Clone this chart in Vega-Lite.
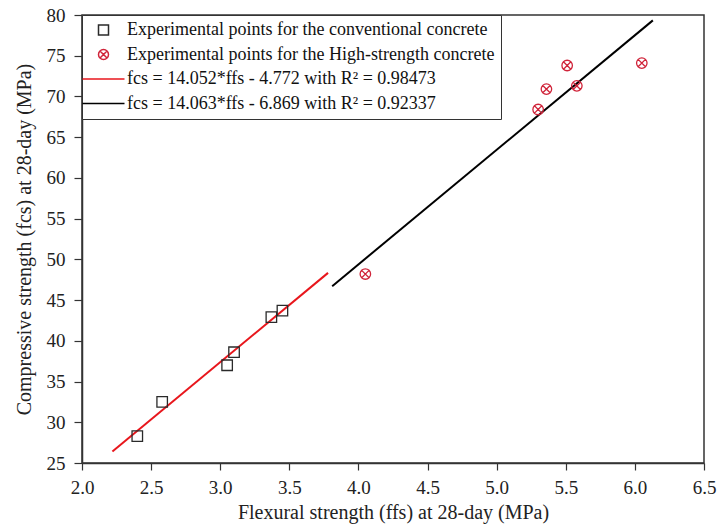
{
  "$schema": "https://vega.github.io/schema/vega-lite/v6.json",
  "width": 622,
  "height": 448,
  "autosize": "none",
  "padding": {"left": 82, "top": 15, "right": 13, "bottom": 64},
  "background": "white",
  "config": {
    "font": "Liberation Serif",
    "view": {"stroke": "#333", "strokeWidth": 1.5},
    "axis": {
      "domainColor": "#333", "domainWidth": 1.5,
      "tickColor": "#333", "tickWidth": 1.2,
      "labelColor": "#222", "titleColor": "#222",
      "labelFont": "Liberation Serif", "titleFont": "Liberation Serif",
      "labelFontSize": 19, "titleFontSize": 20, "titleFontWeight": "normal",
      "grid": false
    }
  },
  "datasets": {
    "points": [
      {"x": 2.40, "y": 28.3, "series": "Experimental points for the conventional concrete"},
      {"x": 2.58, "y": 32.5, "series": "Experimental points for the conventional concrete"},
      {"x": 3.05, "y": 37.0, "series": "Experimental points for the conventional concrete"},
      {"x": 3.10, "y": 38.6, "series": "Experimental points for the conventional concrete"},
      {"x": 3.37, "y": 42.9, "series": "Experimental points for the conventional concrete"},
      {"x": 3.45, "y": 43.7, "series": "Experimental points for the conventional concrete"},
      {"x": 4.05, "y": 48.2, "series": "Experimental points for the High-strength concrete"},
      {"x": 5.30, "y": 68.4, "series": "Experimental points for the High-strength concrete"},
      {"x": 5.36, "y": 70.9, "series": "Experimental points for the High-strength concrete"},
      {"x": 5.51, "y": 73.8, "series": "Experimental points for the High-strength concrete"},
      {"x": 5.58, "y": 71.3, "series": "Experimental points for the High-strength concrete"},
      {"x": 6.05, "y": 74.1, "series": "Experimental points for the High-strength concrete"}
    ],
    "lines": [
      {"x": 2.22, "y": 26.42, "series": "fcs = 14.052*ffs - 4.772 with R² = 0.98473"},
      {"x": 3.78, "y": 48.34, "series": "fcs = 14.052*ffs - 4.772 with R² = 0.98473"},
      {"x": 3.81, "y": 46.71, "series": "fcs = 14.063*ffs - 6.869 with R² = 0.92337"},
      {"x": 6.13, "y": 79.34, "series": "fcs = 14.063*ffs - 6.869 with R² = 0.92337"}
    ]
  },
  "layer": [
    {
      "data": {"name": "lines"},
      "mark": {"type": "line", "strokeWidth": 2},
      "encoding": {
        "x": {
          "field": "x", "type": "quantitative",
          "scale": {"domain": [2, 6.5], "nice": false, "zero": false},
          "axis": {
            "title": "Flexural strength (ffs) at 28-day (MPa)",
            "values": [2, 2.25, 2.5, 2.75, 3, 3.25, 3.5, 3.75, 4, 4.25, 4.5, 4.75, 5, 5.25, 5.5, 5.75, 6, 6.25, 6.5],
            "labelExpr": "(datum.value * 2) % 1 == 0 ? format(datum.value, '.1f') : ''",
            "labelFont": "Liberation Serif",
            "titleFont": "Liberation Serif",
            "labelOverlap": false,
            "labelFlush": false,
            "labelPadding": 8,
            "tickSize": 7,
            "titlePadding": 5,
            "encode": {
              "ticks": {
                "update": {
                  "y2": {"signal": "(datum.value * 2) % 1 != 0 ? 4 : 7"}
                }
              }
            }
          }
        },
        "y": {
          "field": "y", "type": "quantitative",
          "scale": {"domain": [25, 80], "nice": false, "zero": false},
          "axis": {
            "title": "Compressive strength (fcs) at 28-day (MPa)",
            "values": [25, 30, 35, 40, 45, 50, 55, 60, 65, 70, 75, 80],
            "labelFont": "Liberation Serif",
            "titleFont": "Liberation Serif",
            "tickSize": 8,
            "labelPadding": 9,
            "titlePadding": 12
          }
        },
        "color": {
          "field": "series", "type": "nominal",
          "scale": {
            "domain": [
              "Experimental points for the conventional concrete",
              "Experimental points for the High-strength concrete",
              "fcs = 14.052*ffs - 4.772 with R² = 0.98473",
              "fcs = 14.063*ffs - 6.869 with R² = 0.92337"
            ],
            "range": ["#2a2a2a", "#d0243a", "#e8161c", "#000000"]
          },
          "legend": {
            "title": null,
            "orient": "top-left",
            "offset": 0,
            "padding": 6,
            "rowPadding": 6.5,
            "strokeColor": "#333",
            "fillColor": "white",
            "labelFont": "Liberation Serif",
            "labelFontSize": 18,
            "labelColor": "#111",
            "labelLimit": 600,
            "symbolOffset": 6.5,
            "labelOffset": 14.5,
            "symbolSize": 100
          }
        },
        "detail": {"field": "series"}
      }
    },
    {
      "data": {"name": "points"},
      "mark": {"type": "point", "filled": false, "strokeWidth": 1.3, "size": 110, "opacity": 1},
      "encoding": {
        "x": {"field": "x", "type": "quantitative"},
        "y": {"field": "y", "type": "quantitative"},
        "color": {"field": "series", "type": "nominal"},
        "shape": {
          "field": "series", "type": "nominal",
          "scale": {
            "domain": [
              "Experimental points for the conventional concrete",
              "Experimental points for the High-strength concrete",
              "fcs = 14.052*ffs - 4.772 with R² = 0.98473",
              "fcs = 14.063*ffs - 6.869 with R² = 0.92337"
            ],
            "range": [
              "square",
              "M1,0A1,1,0,1,1,-1,0A1,1,0,1,1,1,0ZM-0.7,-0.7L0.7,0.7M-0.7,0.7L0.7,-0.7",
              "M-4.2,0L4.2,0",
              "M-4.2,0L4.2,0"
            ]
          },
          "legend": {"title": null}
        }
      }
    }
  ]
}
